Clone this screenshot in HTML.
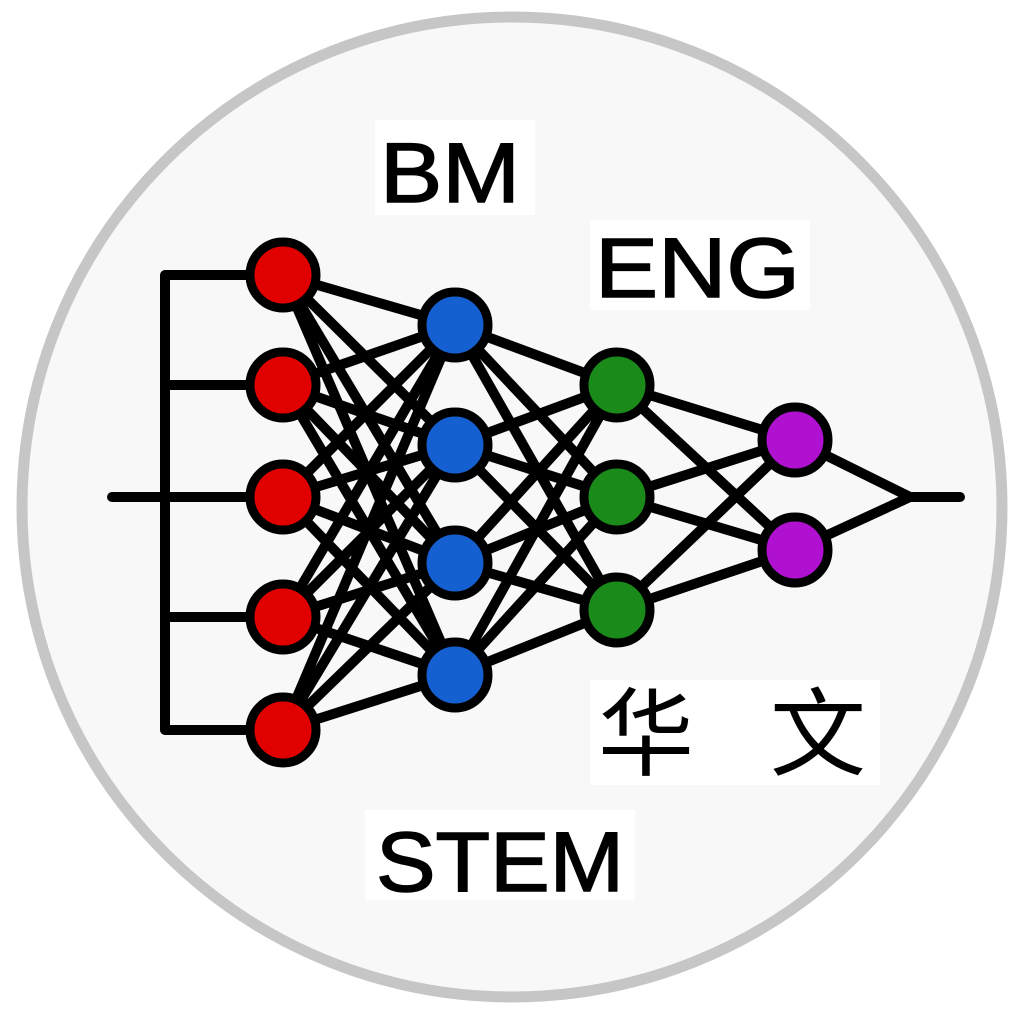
<!DOCTYPE html>
<html><head><style>html,body{margin:0;padding:0;background:#fff;}</style></head>
<body>
<svg width="1024" height="1024" viewBox="0 0 1024 1024" xmlns="http://www.w3.org/2000/svg">
<circle cx="512" cy="507" r="490" fill="#f8f8f8" stroke="#c6c6c6" stroke-width="11"/>
<rect x="375" y="120" width="160" height="95" fill="#fff"/>
<rect x="590" y="220" width="220" height="90" fill="#fff"/>
<rect x="365" y="810" width="270" height="90" fill="#fff"/>
<rect x="590" y="680" width="290" height="105" fill="#fff"/>
<g stroke="#000" stroke-width="10" fill="none" stroke-linecap="round">
<path d="M165 275V730M165 275H283M165 385H283M165 497H283M165 617H283M165 730H283M112 497H250"/>
<path d="M283 275L455 325M283 275L455 445M283 275L455 563M283 275L455 675
M283 385L455 325M283 385L455 445M283 385L455 563M283 385L455 675
M283 497L455 325M283 497L455 445M283 497L455 563M283 497L455 675
M283 617L455 325M283 617L455 445M283 617L455 563M283 617L455 675
M283 730L455 325M283 730L455 445M283 730L455 563M283 730L455 675"/>
<path d="M455 325L617 385M455 325L617 497M455 325L617 610
M455 445L617 385M455 445L617 497M455 445L617 610
M455 563L617 385M455 563L617 497M455 563L617 610
M455 675L617 385M455 675L617 497M455 675L617 610"/>
<path d="M617 385L795 440M617 385L795 550M617 497L795 440M617 497L795 550M617 610L795 440M617 610L795 550"/>
<path d="M795 440L910 497L795 550M910 497H960"/>
</g>
<g stroke="#000" stroke-width="9">
<g fill="#e00000">
<circle cx="283" cy="275" r="33"/><circle cx="283" cy="385" r="33"/><circle cx="283" cy="497" r="33"/><circle cx="283" cy="617" r="33"/><circle cx="283" cy="730" r="33"/>
</g>
<g fill="#1560d0">
<circle cx="455" cy="325" r="33"/><circle cx="455" cy="445" r="33"/><circle cx="455" cy="563" r="33"/><circle cx="455" cy="675" r="33"/>
</g>
<g fill="#1a8a1a">
<circle cx="617" cy="385" r="33"/><circle cx="617" cy="497" r="33"/><circle cx="617" cy="610" r="33"/>
</g>
<g fill="#b010d0">
<circle cx="795" cy="440" r="33"/><circle cx="795" cy="550" r="33"/>
</g>
</g>
<g font-family="Liberation Sans, sans-serif" font-size="84" fill="#000" stroke="#000" stroke-width="1.5">
<text x="380" y="202" textLength="140" lengthAdjust="spacingAndGlyphs">BM</text>
<text x="595" y="297" textLength="205" lengthAdjust="spacingAndGlyphs">ENG</text>
<text x="376" y="891" textLength="248" lengthAdjust="spacingAndGlyphs">STEM</text>
</g>
<g font-family="'Noto Sans CJK SC', sans-serif" font-size="96" fill="#000">
<text x="598" y="768">华</text>
<text x="770" y="768">文</text>
</g>
</svg>
</body></html>
